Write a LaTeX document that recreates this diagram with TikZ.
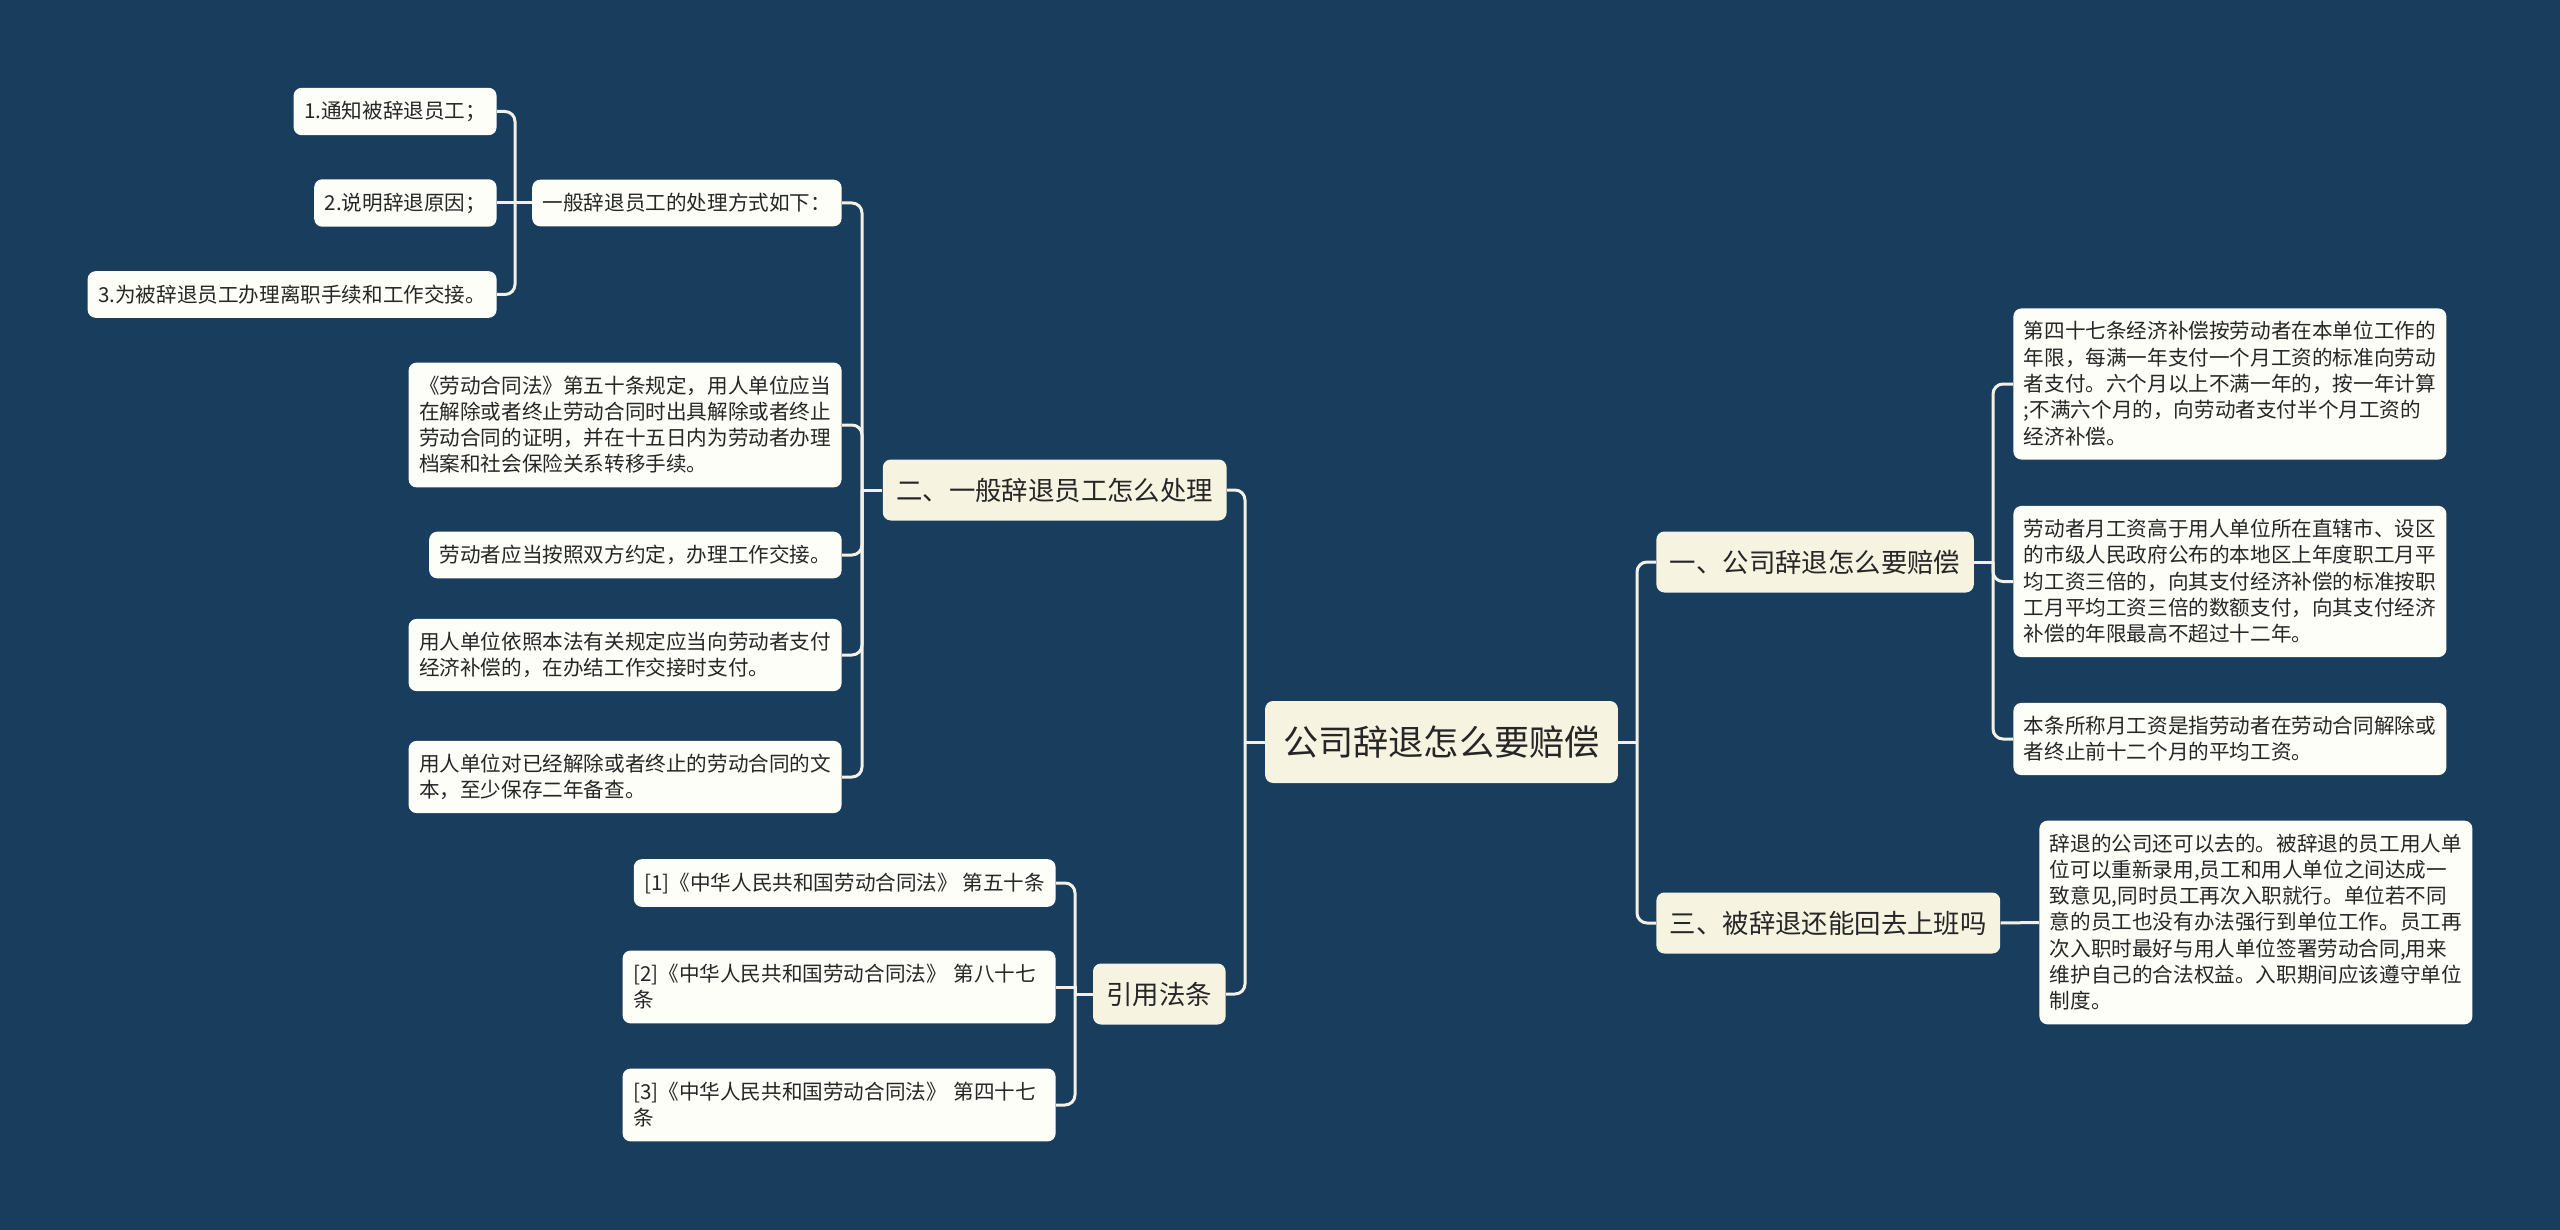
\documentclass[tikz,border=0pt]{standalone}
\usepackage{fontspec}
\setmainfont{Noto Sans CJK SC}
\definecolor{bg}{HTML}{183D5D}
\definecolor{branchfill}{HTML}{F7F3E1}
\definecolor{leaffill}{HTML}{FEFEF8}
\definecolor{txt}{HTML}{262626}
\definecolor{linec}{HTML}{F3F1E6}
\newcommand\lstrut{\rule[-0.12em]{0pt}{1em}}
\tikzset{
  box/.style={rounded corners=4pt, text=txt, execute at begin node=\lstrut, execute at end node=\lstrut},
  rootbox/.style={box, fill=branchfill, font=\fontsize{17.6}{21}\selectfont, inner xsep=9pt, inner ysep=11.7pt},
  branchbox/.style={box, fill=branchfill, font=\fontsize{13.2}{16}\selectfont, inner xsep=6.75pt, inner ysep=8.65pt},
  leafbox/.style={box, fill=leaffill, font=\fontsize{10.3}{13.15}\selectfont, align=left, inner xsep=5.25pt, inner ysep=6.5pt},
  wideleaf/.style={leafbox, text width=206pt},
  conn/.style={draw=linec, line width=1.5pt, rounded corners=5pt},
}
\begin{document}
\begin{tikzpicture}[x=0.5pt,y=-0.5pt]
\fill[bg] (0,0) rectangle (2560,1230);
\useasboundingbox (0,0) rectangle (2560,1230);

% root
\node[rootbox] (root) at (1441.5,742) {公司辞退怎么要赔偿};

% right branches
\node[branchbox, anchor=west] (b1) at (1656,562) {一、公司辞退怎么要赔偿};
\node[branchbox, anchor=west] (b3) at (1656,923) {三、被辞退还能回去上班吗};

\node[leafbox, anchor=west] (L1a) at (2013,384) {第四十七条经济补偿按劳动者在本单位工作的\\年限，每满一年支付一个月工资的标准向劳动\\者支付。六个月以上不满一年的，按一年计算\\;不满六个月的，向劳动者支付半个月工资的\\经济补偿。};
\node[leafbox, anchor=west] (L1b) at (2013,581.5) {劳动者月工资高于用人单位所在直辖市、设区\\的市级人民政府公布的本地区上年度职工月平\\均工资三倍的，向其支付经济补偿的标准按职\\工月平均工资三倍的数额支付，向其支付经济\\补偿的年限最高不超过十二年。};
\node[leafbox, anchor=west] (L1c) at (2013,739) {本条所称月工资是指劳动者在劳动合同解除或\\者终止前十二个月的平均工资。};
\node[leafbox, anchor=west] (L3) at (2039,922.5) {辞退的公司还可以去的。被辞退的员工用人单\\位可以重新录用,员工和用人单位之间达成一\\致意见,同时员工再次入职就行。单位若不同\\意的员工也没有办法强行到单位工作。员工再\\次入职时最好与用人单位签署劳动合同,用来\\维护自己的合法权益。入职期间应该遵守单位\\制度。};

% left branches
\node[branchbox, anchor=east] (b2) at (1227,490) {二、一般辞退员工怎么处理};
\node[branchbox, anchor=east] (b4) at (1226,994) {引用法条};

\node[leafbox, anchor=east] (m1) at (842,203) {一般辞退员工的处理方式如下：};
\node[leafbox, anchor=east] (m2) at (842,425) {《劳动合同法》第五十条规定，用人单位应当\\在解除或者终止劳动合同时出具解除或者终止\\劳动合同的证明，并在十五日内为劳动者办理\\档案和社会保险关系转移手续。};
\node[leafbox, anchor=east] (m3) at (842,555) {劳动者应当按照双方约定，办理工作交接。};
\node[leafbox, anchor=east] (m4) at (842,655) {用人单位依照本法有关规定应当向劳动者支付\\经济补偿的，在办结工作交接时支付。};
\node[leafbox, anchor=east] (m5) at (842,777) {用人单位对已经解除或者终止的劳动合同的文\\本，至少保存二年备查。};

\node[leafbox, anchor=east] (g1) at (497,111.5) {1.通知被辞退员工；};
\node[leafbox, anchor=east] (g2) at (497,203) {2.说明辞退原因；};
\node[leafbox, anchor=east] (g3) at (497,294.5) {3.为被辞退员工办理离职手续和工作交接。};

\node[leafbox, anchor=east] (r1) at (1056,883) {[1]《中华人民共和国劳动合同法》 第五十条};
\node[wideleaf, anchor=east] (r2) at (1056,987) {[2]《中华人民共和国劳动合同法》 第八十七\\条};
\node[wideleaf, anchor=east] (r3) at (1056,1105) {[3]《中华人民共和国劳动合同法》 第四十七\\条};

% trunk coordinates
\coordinate (tR) at (1637,742);
\coordinate (tL) at (1245,742);
\coordinate (t1) at (1993,562);
\coordinate (t2) at (862,490);
\coordinate (t4) at (1075,994);
\coordinate (tm) at (515,203);

% connectors
\draw[conn] (root.east) -- (tR);
\draw[conn] (tR) |- (b1.west);
\draw[conn] (tR) |- (b3.west);
\draw[conn] (root.west) -- (tL);
\draw[conn] (tL) |- (b2.east);
\draw[conn] (tL) |- (b4.east);

\draw[conn] (b1.east) -- (t1);
\draw[conn] (t1) |- (L1a.west);
\draw[conn] (t1) |- (L1b.west);
\draw[conn] (t1) |- (L1c.west);

\draw[conn] (b3.east) -- (L3.west);

\draw[conn] (b2.west) -- (t2);
\draw[conn] (t2) |- (m1.east);
\draw[conn] (t2) |- (m2.east);
\draw[conn] (t2) |- (m3.east);
\draw[conn] (t2) |- (m4.east);
\draw[conn] (t2) |- (m5.east);

\draw[conn] (b4.west) -- (t4);
\draw[conn] (t4) |- (r1.east);
\draw[conn, rounded corners=0pt] (t4) |- (r2.east);
\draw[conn] (t4) |- (r3.east);

\draw[conn] (m1.west) -- (tm);
\draw[conn] (tm) |- (g1.east);
\draw[conn] (tm) -- (g2.east);
\draw[conn] (tm) |- (g3.east);
\end{tikzpicture}
\end{document}
